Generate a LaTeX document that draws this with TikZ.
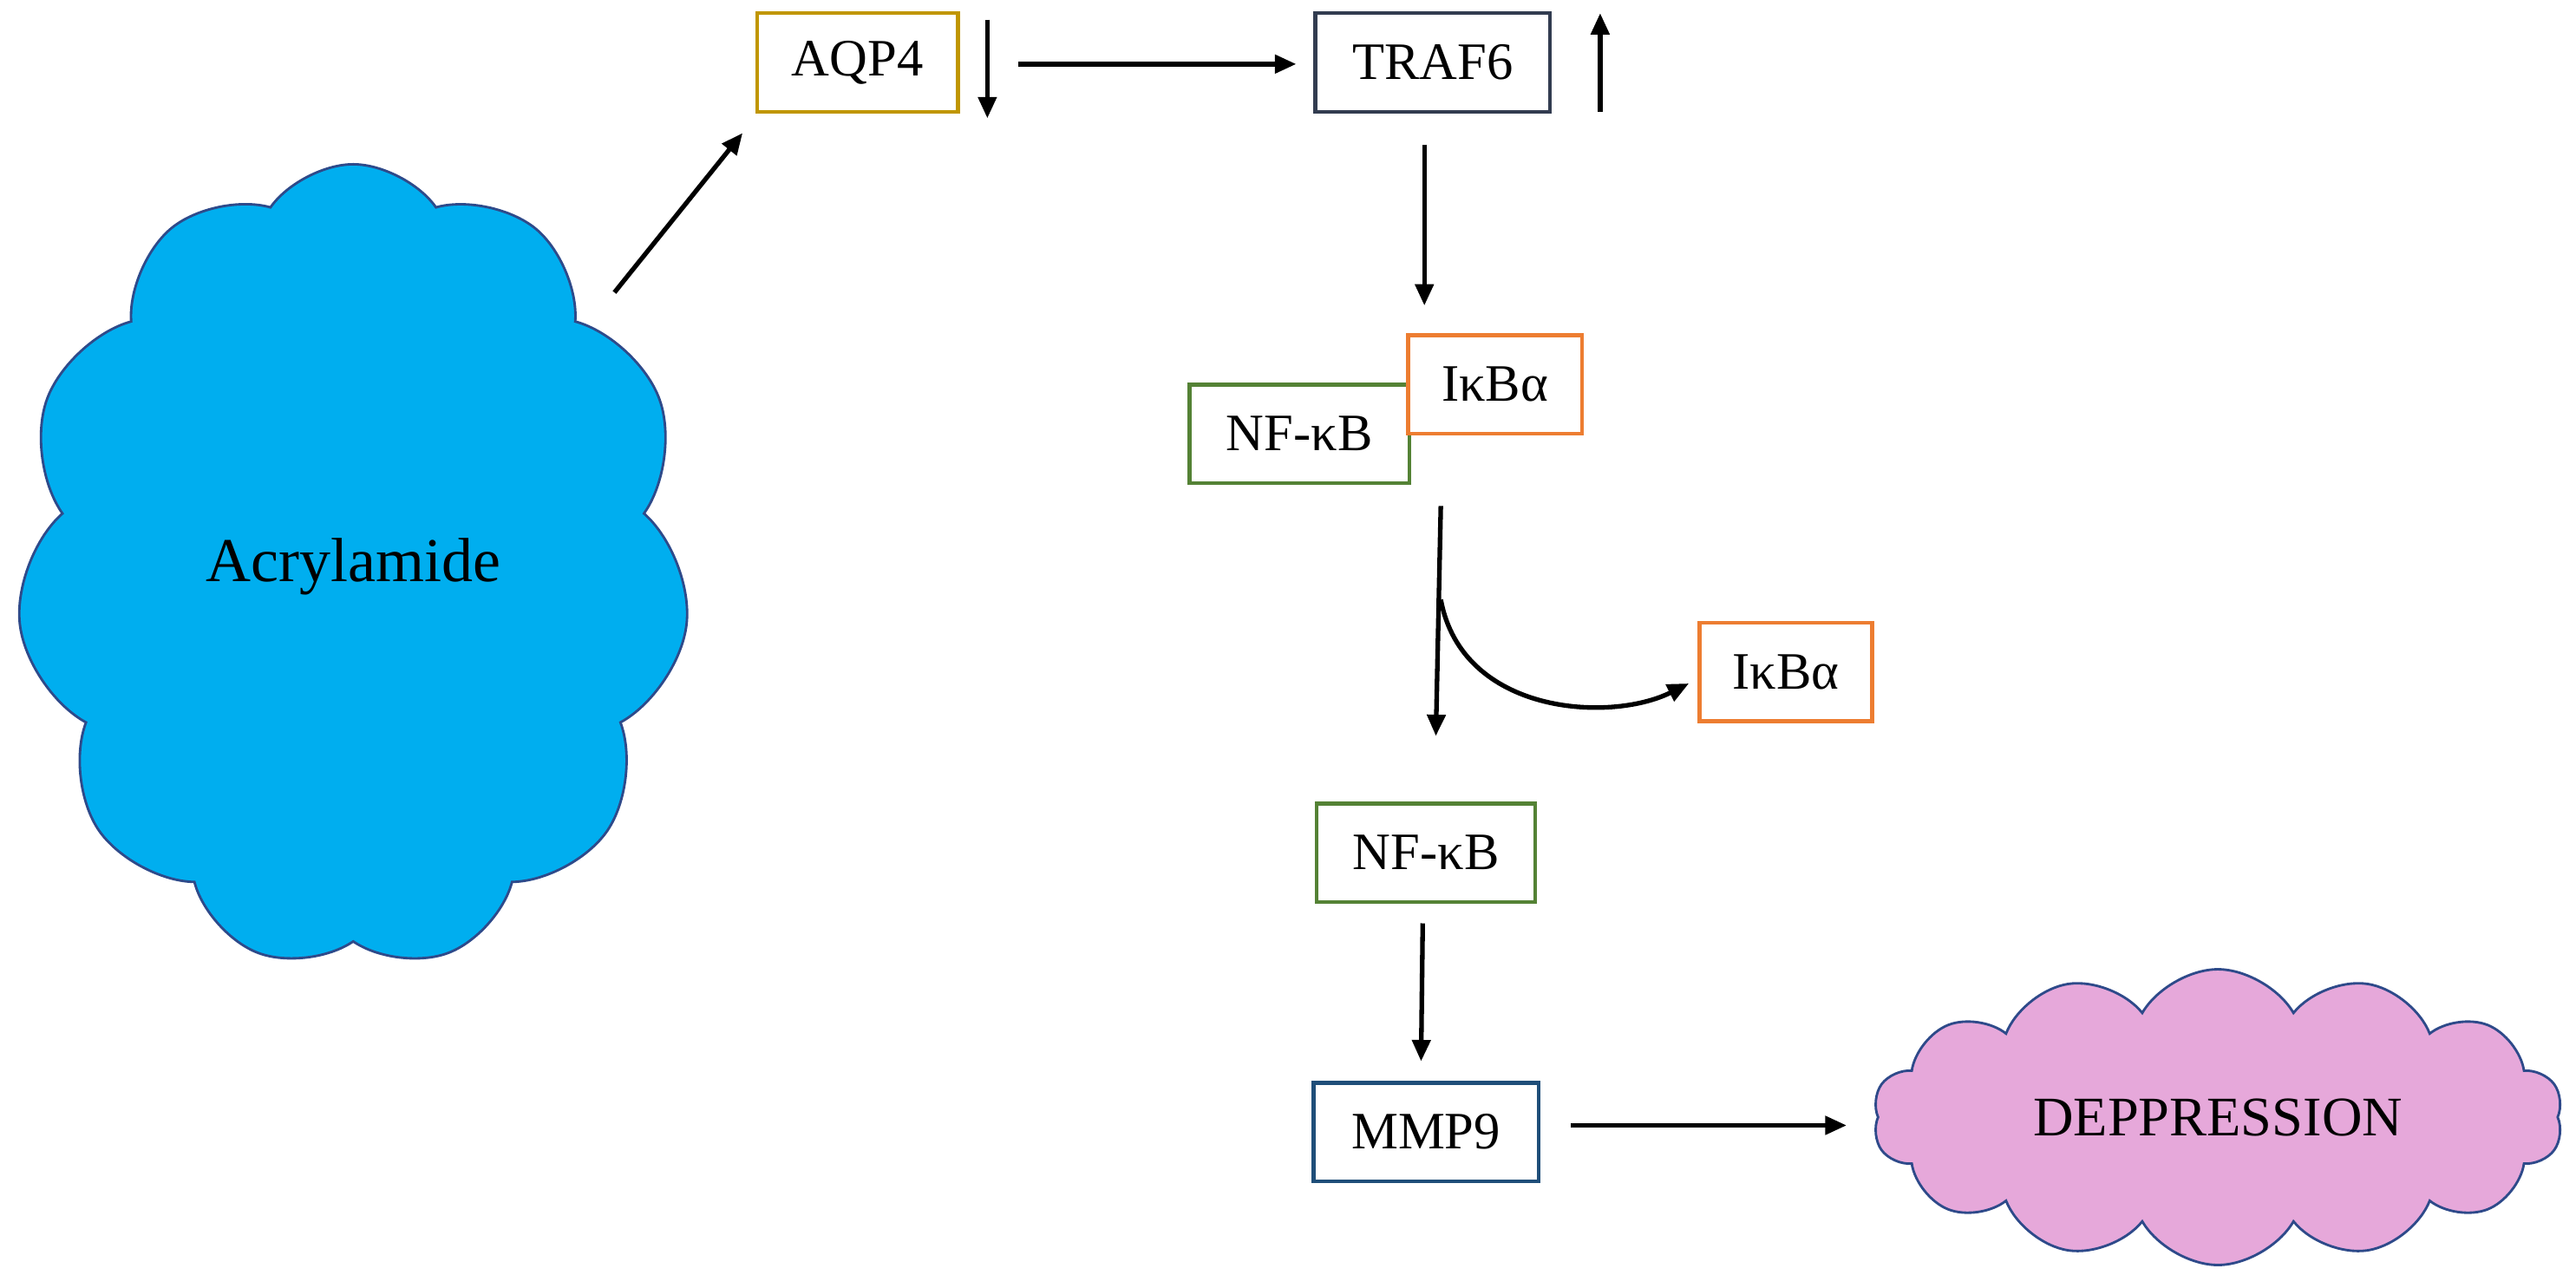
\documentclass[tikz,border=0pt]{standalone}
\usepackage{fontspec}
\setmainfont{Liberation Serif}
\usetikzlibrary{shapes.symbols,arrows.meta}
\definecolor{cblue}{HTML}{00AEEF}
\definecolor{cpink}{HTML}{E6A8DA}
\definecolor{cedge}{HTML}{2E4A8A}
\begin{document}
\begin{tikzpicture}[x=1pt,y=-1pt,
 box/.style={draw,line width=2.4pt,fill=white,minimum width=#1,minimum height=60pt,inner sep=0pt,font=\fontsize{32}{36}\selectfont},
 arr/.style={line width=2.8pt,-{Triangle[length=13pt,width=11pt]}}]
\useasboundingbox (0,0) rectangle (1568,784);
\node[cloud,cloud puffs=11,cloud puff arc=110,aspect=0.85,draw=cedge,line width=1.5pt,fill=cblue,minimum width=410pt,minimum height=490pt,inner sep=0pt,font=\fontsize{38}{42}\selectfont] (acr) at (215,345) {Acrylamide};
\node[cloud,cloud puffs=14,cloud puff arc=120,aspect=2.4,draw=cedge,line width=1.5pt,fill=cpink,minimum width=420pt,minimum height=180pt,inner sep=0pt,font=\fontsize{34}{38}\selectfont] (dep) at (1350,680) {DEPPRESSION};
\node[box=122pt,draw={rgb,255:red,192;green,150;blue,0}] (aqp) at (522,38) {AQP4};
\node[box=143pt,draw={rgb,255:red,50;green,60;blue,80}] (traf) at (872,38) {TRAF6};
\node[box=134pt,draw={rgb,255:red,84;green,130;blue,53}] (nf1) at (791,264) {NF-κB};
\node[box=106pt,draw={rgb,255:red,237;green,125;blue,49}] (ik1) at (910,234) {IκBα};
\node[box=105pt,draw={rgb,255:red,237;green,125;blue,49}] (ik2) at (1087,409) {IκBα};
\node[box=133pt,draw={rgb,255:red,84;green,130;blue,53}] (nf2) at (868,519) {NF-κB};
\node[box=137pt,draw={rgb,255:red,31;green,78;blue,121}] (mmp) at (868,689) {MMP9};
\coordinate (a1) at (374,178); \coordinate (a2) at (452,81);
\draw[arr] (a1) -- (a2);
\coordinate (d1) at (601,12); \coordinate (d2) at (601,72);
\draw[arr] (d1) -- (d2);
\coordinate (u1) at (974,68); \coordinate (u2) at (974,8);
\draw[arr] (u1) -- (u2);
\coordinate (h1) at (620,39); \coordinate (h2) at (789,39);
\draw[arr] (h1) -- (h2);
\coordinate (t1) at (867,88); \coordinate (t2) at (867,186);
\draw[arr] (t1) -- (t2);
\coordinate (s1) at (877,308); \coordinate (s2) at (874,448); \coordinate (br) at (877,365);
\draw[arr] (s1) -- (s2);
\coordinate (c2) at (1028,416);
\draw[arr] (br) .. controls (890,435) and (980,440) .. (c2);
\coordinate (m1) at (866,562); \coordinate (m2) at (865,646);
\draw[arr] (m1) -- (m2);
\coordinate (e1) at (956,685); \coordinate (e2) at (1124,685);
\draw[arr] (e1) -- (e2);
\end{tikzpicture}
\end{document}
